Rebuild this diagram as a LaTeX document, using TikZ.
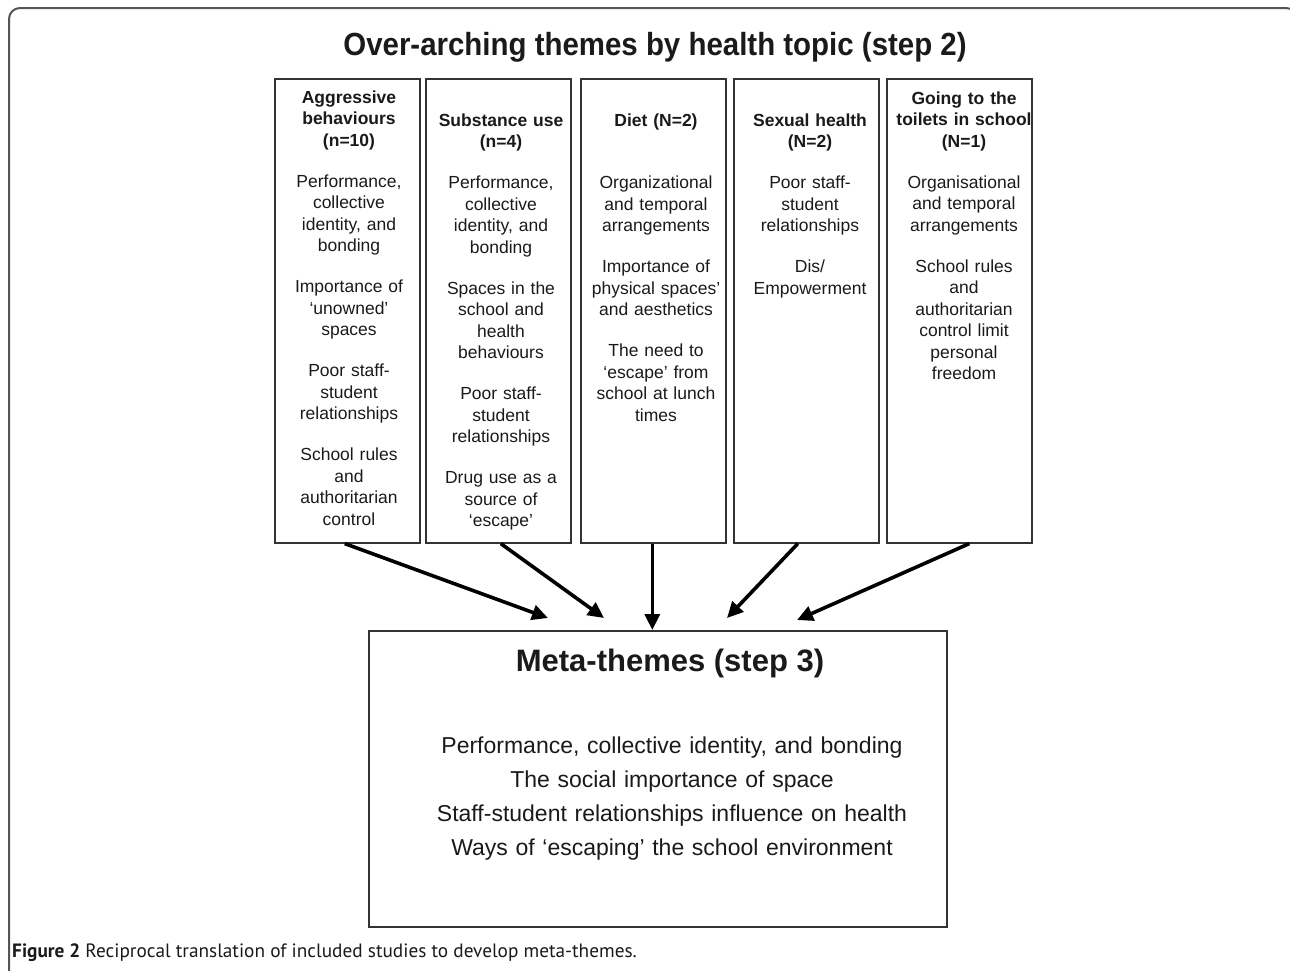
\documentclass[tikz,border=0pt]{standalone}
\usepackage{fontspec}
\setmainfont{Liberation Sans}
\newfontfamily\capfont{PT Sans}
\newfontfamily\condfont[FakeStretch=0.92]{Liberation Sans}
\usetikzlibrary{arrows.meta}
\definecolor{boxgray}{HTML}{333333}
\definecolor{textblack}{HTML}{1A1A1A}
\definecolor{framegray}{HTML}{555555}
\begin{document}
\begin{tikzpicture}[x=1pt,y=-1pt,
  themebox/.style={draw=boxgray, line width=1.6pt, minimum width=145pt, minimum height=464pt, anchor=north west, inner sep=0pt},
  boxtext/.style={text width=175pt, align=center, anchor=base, inner sep=0pt, text=textblack, font=\fontsize{17.5}{21.5}\selectfont},
  link/.style={line width=3.6pt, draw=black, -{Triangle[length=16pt,width=15pt]}}]
\useasboundingbox (0,0) rectangle (1290,970);
% outer frame
\draw[framegray, line width=2pt, rounded corners=11pt] (9,985) -- (9,8) -- (1297,8) -- (1297,985);
% title
\node[anchor=base, inner sep=0pt, text=textblack, font=\condfont\bfseries\fontsize{32}{38}\selectfont] (title) at (655,55) {Over-arching themes by health topic (step 2)};
% topic boxes
\node[themebox] (b1) at (274,78) {};
\node[themebox] (b2) at (425,78) {};
\node[themebox] (b3) at (580,78) {};
\node[themebox] (b4) at (733,78) {};
\node[themebox] (b5) at (886,78) {};
% box texts
\node[boxtext] (t1) at (349,103) {\textbf{Aggressive}\\\textbf{behaviours}\\\textbf{(n=10)}\\[19.5pt]
Performance,\\collective\\identity, and\\bonding\\[19.5pt]
Importance of\\‘unowned’\\spaces\\[19.5pt]
Poor staff-\\student\\relationships\\[19.5pt]
School rules\\and\\authoritarian\\control};
\node[boxtext] (t2) at (501,126) {\textbf{Substance use}\\\textbf{(n=4)}\\[19.5pt]
Performance,\\collective\\identity, and\\bonding\\[19.5pt]
Spaces in the\\school and\\health\\behaviours\\[19.5pt]
Poor staff-\\student\\relationships\\[19.5pt]
Drug use as a\\source of\\‘escape’};
\node[boxtext] (t3) at (656,126) {\textbf{Diet (N=2)}\\[41pt]
Organizational\\and temporal\\arrangements\\[19.5pt]
Importance of\\physical spaces’\\and aesthetics\\[19.5pt]
The need to\\‘escape’ from\\school at lunch\\times};
\node[boxtext] (t4) at (810,126) {\textbf{Sexual health}\\\textbf{(N=2)}\\[19.5pt]
Poor staff-\\student\\relationships\\[19.5pt]
Dis/\\Empowerment};
\node[boxtext] (t5) at (964,104) {\textbf{Going to the}\\\textbf{toilets in school}\\\textbf{(N=1)}\\[19.5pt]
Organisational\\and temporal\\arrangements\\[19.5pt]
School rules\\and\\authoritarian\\control limit\\personal\\freedom};
% meta box
\node[draw=boxgray, line width=1.6pt, minimum width=578pt, minimum height=296pt, anchor=north west, inner sep=0pt] (m) at (368,630) {};
\node[anchor=base, inner sep=0pt, text=textblack, font=\bfseries\fontsize{31}{36}\selectfont] (mt) at (670,671) {Meta-themes (step 3)};
\node[anchor=base, inner sep=0pt, text width=560pt, align=center, text=textblack, font=\fontsize{23}{34}\selectfont] (mi) at (672,753) {Performance, collective identity, and bonding\\The social importance of space\\Staff-student relationships influence on health\\Ways of ‘escaping’ the school environment};
% arrow tips
\coordinate (e1) at (548,618);
\coordinate (e2) at (604,618);
\coordinate (e4) at (727,618);
\coordinate (e5) at (797,620);
\draw[link] ([xshift=-2.5pt]b1.south) -- (e1);
\draw[link] ([xshift=2.5pt]b2.south) -- (e2);
\draw[link] ([xshift=-1pt]b3.south) -- ([xshift=-1pt]b3.south |- m.north);
\draw[link] ([xshift=-8.5pt]b4.south) -- (e4);
\draw[link] ([xshift=10pt]b5.south) -- (e5);
% caption
\node[anchor=base west, inner sep=0pt, text=textblack, font=\capfont\fontsize{19.3}{24}\selectfont] (cap) at (12,957) {\textbf{Figure 2} Reciprocal translation of included studies to develop meta-themes.};
\end{tikzpicture}
\end{document}
